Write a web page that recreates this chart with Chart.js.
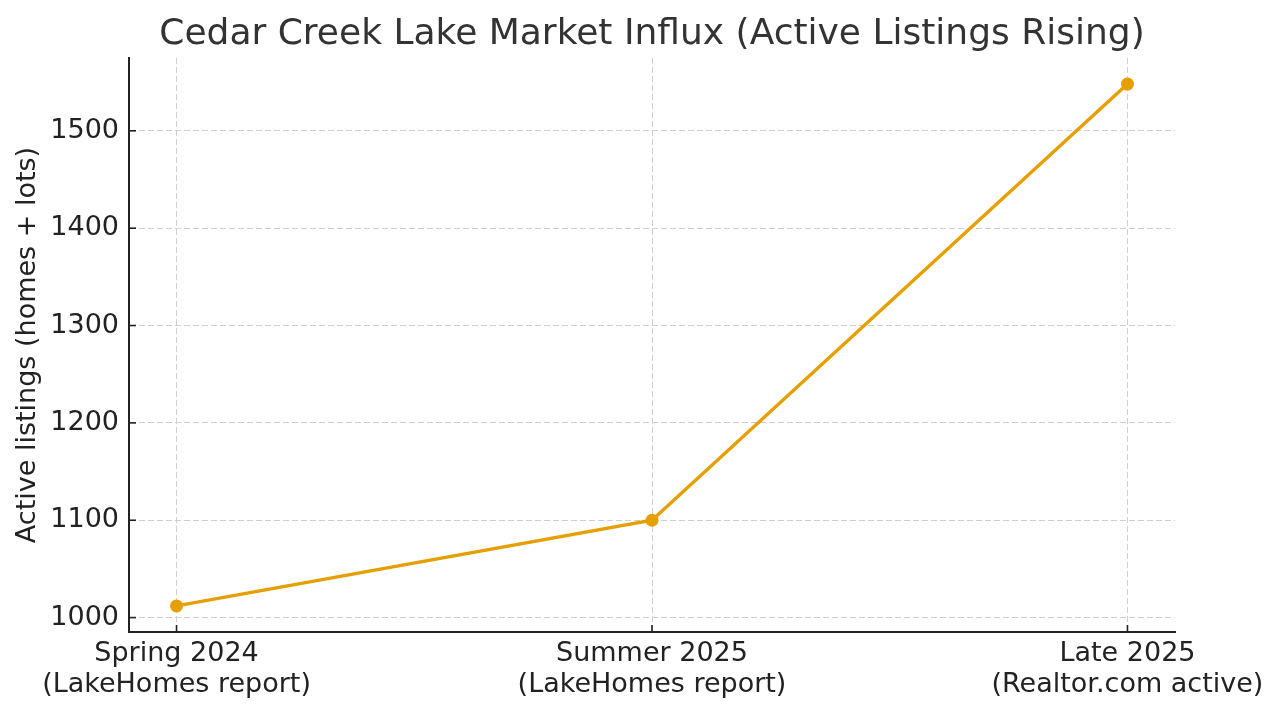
<!DOCTYPE html>
<html>
<head>
<meta charset="utf-8">
<script src="https://cdn.jsdelivr.net/npm/chart.js@4.4.1/dist/chart.umd.min.js"></script>
<style>
  html, body { margin: 0; padding: 0; background: #ffffff; }
  #wrap { width: 1280px; height: 714px; }
</style>
</head>
<body>
<div id="wrap"><canvas id="c" width="1280" height="714"></canvas></div>
<script>
// ---- data ----
const categories = [
  ["Spring 2024", "(LakeHomes report)"],
  ["Summer 2025", "(LakeHomes report)"],
  ["Late 2025", "(Realtor.com active)"]
];
const activeListings = [1012, 1100, 1548];
const yTickValues = [1000, 1100, 1200, 1300, 1400, 1500];
const titleText = "Cedar Creek Lake Market Influx (Active Listings Rising)";
const yAxisLabel = "Active listings (homes + lots)";

// ---- styling ----
const FONT = "'DejaVu Sans', sans-serif";
const TEXT = "#222222";
const LINE = "#E69F00";
const GRID = "#cfcfcf";

const yMin = Math.min(...activeListings), yMax = Math.max(...activeListings);
const yPad = (yMax - yMin) * 0.05;
const xPad = (categories.length - 1) * 0.05;

const inwardTicks = {
  id: 'inwardTicks',
  beforeDatasetsDraw(chart) {
    const ctx = chart.ctx;
    const xs = chart.scales.x, ys = chart.scales.y;
    const a = chart.chartArea;
    ctx.save();
    ctx.strokeStyle = '#222222';
    ctx.lineWidth = 1.6;
    ctx.setLineDash([]);
    xs.ticks.forEach((t) => {
      const px = xs.getPixelForValue(t.value);
      ctx.beginPath();
      ctx.moveTo(px, a.bottom);
      ctx.lineTo(px, a.bottom - 7);
      ctx.stroke();
    });
    ys.ticks.forEach((t) => {
      const py = ys.getPixelForValue(t.value);
      ctx.beginPath();
      ctx.moveTo(a.left, py);
      ctx.lineTo(a.left + 7, py);
      ctx.stroke();
    });
    ctx.restore();
  }
};

new Chart(document.getElementById('c'), {
  type: 'line',
  data: {
    datasets: [{
      data: activeListings.map((v, i) => ({ x: i, y: v })),
      borderColor: LINE,
      backgroundColor: LINE,
      borderWidth: 3.4,
      pointRadius: 6.5,
      pointHoverRadius: 6.5,
      pointBackgroundColor: LINE,
      pointBorderColor: LINE,
      pointBorderWidth: 0,
      tension: 0,
      fill: false
    }]
  },
  options: {
    responsive: false,
    devicePixelRatio: 1,
    animation: false,
    layout: { padding: { left: 0, right: 105, top: 0, bottom: 0 } },
    plugins: {
      legend: { display: false },
      tooltip: { enabled: false },
      title: {
        display: true,
        text: titleText,
        fullSize: false,
        color: '#333333',
        font: { family: FONT, size: 36, weight: 'normal', lineHeight: 1 },
        padding: { top: 17, bottom: 5 }
      }
    },
    scales: {
      x: {
        type: 'linear',
        min: -xPad,
        max: categories.length - 1 + xPad,
        afterFit(s) { s.height = 82; s.paddingLeft = 0; s.paddingRight = 0; },
        afterBuildTicks(s) { s.ticks = categories.map((c, i) => ({ value: i })); },
        ticks: {
          includeBounds: false,
          autoSkip: false,
          maxRotation: 0,
          minRotation: 0,
          padding: 6,
          color: TEXT,
          font: { family: FONT, size: 27, lineHeight: 1.15 },
          callback: (v) => categories[v]
        },
        grid: {
          display: true,
          drawTicks: false,
          color: GRID,
          lineWidth: 1
        },
        border: { display: true, color: '#222222', width: 2, dash: [6, 3] }
      },
      y: {
        type: 'linear',
        min: yMin - yPad,
        max: yMax + yPad,
        afterFit(s) { s.width = 129; },
        afterBuildTicks(s) { s.ticks = yTickValues.map(v => ({ value: v })); },
        ticks: {
          includeBounds: false,
          padding: 10,
          color: TEXT,
          font: { family: FONT, size: 27 },
          callback: (v) => String(v)
        },
        grid: {
          display: true,
          drawTicks: false,
          color: GRID,
          lineWidth: 1
        },
        border: { display: true, color: '#222222', width: 2, dash: [6, 3] },
        title: {
          display: true,
          text: yAxisLabel,
          color: TEXT,
          font: { family: FONT, size: 27, lineHeight: 1.2 },
          padding: { top: 12, bottom: 0 }
        }
      }
    }
  },
  plugins: [inwardTicks]
});
</script>
</body>
</html>
